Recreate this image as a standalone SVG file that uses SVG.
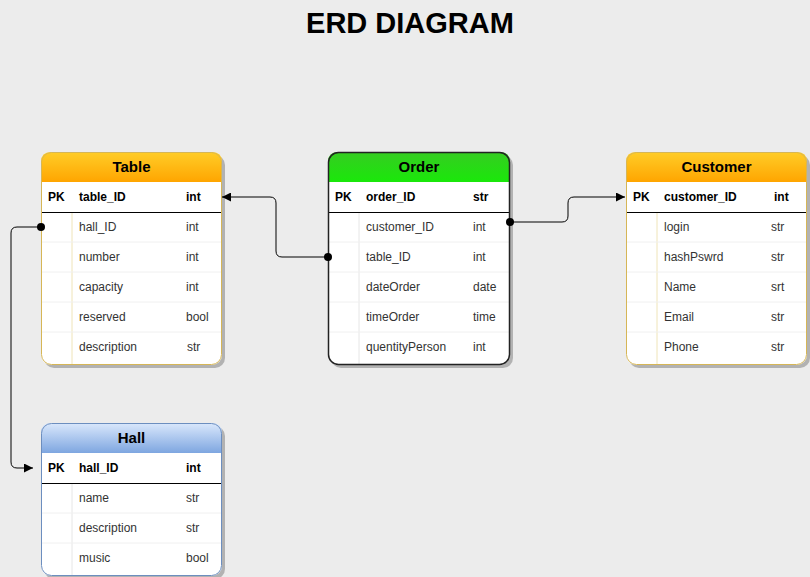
<svg xmlns="http://www.w3.org/2000/svg" width="810" height="577" viewBox="0 0 810 577">
<defs>
<linearGradient id="gOrange" x1="0" y1="0" x2="0" y2="1"><stop offset="0" stop-color="#ffcd28"/><stop offset="1" stop-color="#ffa500"/></linearGradient>
<linearGradient id="gGreen" x1="0" y1="0" x2="0" y2="1"><stop offset="0" stop-color="#36cc22"/><stop offset="1" stop-color="#1ae80a"/></linearGradient>
<linearGradient id="gBlue" x1="0" y1="0" x2="0" y2="1"><stop offset="0" stop-color="#dae8fc"/><stop offset="1" stop-color="#7ea6e0"/></linearGradient>
<marker id="arr" viewBox="0 0 10 10" refX="10" refY="5" markerWidth="9" markerHeight="9" markerUnits="userSpaceOnUse" orient="auto">
<path d="M0,0 L10,5 L0,10 Z" fill="#000"/>
</marker>
</defs>
<style>
text{font-family:"Liberation Sans",Arial,sans-serif;fill:#333;}
.title{font-size:29px;font-weight:bold;fill:#000;}
.hdr{font-size:15px;font-weight:bold;fill:#000;}
.pk{font-size:12px;font-weight:bold;fill:#000;}
.f{font-size:12px;fill:#333;}
.shadow{fill:#9a9a9a;opacity:0.7;}
.body{fill:#fff;}
.rowline{stroke:#f0f0f0;stroke-width:1;}
.pkline{stroke:#000;stroke-width:1;}
.conn{fill:none;stroke:#000;stroke-width:1;}
</style>
<rect x="0" y="0" width="810" height="577" fill="#ececec"/>
<text class="title" x="410" y="33" text-anchor="middle">ERD DIAGRAM</text>

<g id="table">
<rect class="shadow" x="44" y="155" width="181" height="213" rx="10"/>
<rect class="body" x="41" y="152" width="181" height="213" rx="10"/>
<path d="M41,182 V162 Q41,152 51,152 H212 Q222,152 222,162 V182 Z" fill="url(#gOrange)"/>
<line x1="72" y1="182" x2="72" y2="365" stroke="#efe4b8"/>
<line class="rowline" x1="42" y1="242" x2="221" y2="242"/>
<line class="rowline" x1="42" y1="272" x2="221" y2="272"/>
<line class="rowline" x1="42" y1="302" x2="221" y2="302"/>
<line class="rowline" x1="42" y1="332" x2="221" y2="332"/>
<rect x="41" y="182" width="181" height="30" fill="#fff"/>
<line class="pkline" x1="41" y1="212.5" x2="222" y2="212.5"/>
<rect x="41.5" y="152.5" width="180" height="212" rx="10" fill="none" stroke="#d6b656"/>
<text class="hdr" x="131.5" y="172" text-anchor="middle">Table</text>
<text class="pk" x="48" y="201">PK</text>
<text class="pk" x="79" y="201">table_ID</text>
<text class="pk" x="186" y="201">int</text>
<text class="f" x="79" y="231">hall_ID</text><text class="f" x="186" y="231">int</text>
<text class="f" x="79" y="261">number</text><text class="f" x="186" y="261">int</text>
<text class="f" x="79" y="291">capacity</text><text class="f" x="186" y="291">int</text>
<text class="f" x="79" y="321">reserved</text><text class="f" x="186" y="321">bool</text>
<text class="f" x="79" y="351">description</text><text class="f" x="187" y="351">str</text>
</g>

<g id="order">
<rect class="shadow" x="331" y="155" width="182" height="213" rx="10"/>
<rect class="body" x="328" y="152" width="182" height="213" rx="10"/>
<path d="M328,182 V162 Q328,152 338,152 H500 Q510,152 510,162 V182 Z" fill="url(#gGreen)"/>
<line x1="359" y1="182" x2="359" y2="365" stroke="#e6e6e6"/>
<line class="rowline" x1="329" y1="242" x2="509" y2="242"/>
<line class="rowline" x1="329" y1="272" x2="509" y2="272"/>
<line class="rowline" x1="329" y1="302" x2="509" y2="302"/>
<line class="rowline" x1="329" y1="332" x2="509" y2="332"/>
<rect x="328" y="182" width="182" height="30" fill="#fff"/>
<line class="pkline" x1="328" y1="212.5" x2="510" y2="212.5"/>
<rect x="328.5" y="152.5" width="181" height="212" rx="10" fill="none" stroke="#222" stroke-width="1.5"/>
<text class="hdr" x="419" y="172" text-anchor="middle">Order</text>
<text class="pk" x="335" y="201">PK</text>
<text class="pk" x="366" y="201">order_ID</text>
<text class="pk" x="473" y="201">str</text>
<text class="f" x="366" y="231">customer_ID</text><text class="f" x="473" y="231">int</text>
<text class="f" x="366" y="261">table_ID</text><text class="f" x="473" y="261">int</text>
<text class="f" x="366" y="291">dateOrder</text><text class="f" x="473" y="291">date</text>
<text class="f" x="366" y="321">timeOrder</text><text class="f" x="473" y="321">time</text>
<text class="f" x="366" y="351">quentityPerson</text><text class="f" x="473" y="351">int</text>
</g>

<g id="customer">
<rect class="shadow" x="629" y="155" width="181" height="213" rx="10"/>
<rect class="body" x="626" y="152" width="181" height="213" rx="10"/>
<path d="M626,182 V162 Q626,152 636,152 H797 Q807,152 807,162 V182 Z" fill="url(#gOrange)"/>
<line x1="657" y1="182" x2="657" y2="365" stroke="#efe4b8"/>
<line class="rowline" x1="627" y1="242" x2="806" y2="242"/>
<line class="rowline" x1="627" y1="272" x2="806" y2="272"/>
<line class="rowline" x1="627" y1="302" x2="806" y2="302"/>
<line class="rowline" x1="627" y1="332" x2="806" y2="332"/>
<rect x="626" y="182" width="181" height="30" fill="#fff"/>
<line class="pkline" x1="626" y1="212.5" x2="807" y2="212.5"/>
<rect x="626.5" y="152.5" width="180" height="212" rx="10" fill="none" stroke="#d6b656"/>
<text class="hdr" x="716.5" y="172" text-anchor="middle">Customer</text>
<text class="pk" x="633" y="201">PK</text>
<text class="pk" x="664" y="201">customer_ID</text>
<text class="pk" x="774" y="201">int</text>
<text class="f" x="664" y="231">login</text><text class="f" x="771" y="231">str</text>
<text class="f" x="664" y="261">hashPswrd</text><text class="f" x="771" y="261">str</text>
<text class="f" x="664" y="291">Name</text><text class="f" x="771" y="291">srt</text>
<text class="f" x="664" y="321">Email</text><text class="f" x="771" y="321">str</text>
<text class="f" x="664" y="351">Phone</text><text class="f" x="771" y="351">str</text>
</g>

<g id="hall">
<rect class="shadow" x="44" y="426" width="181" height="153" rx="10"/>
<rect class="body" x="41" y="423" width="181" height="153" rx="10"/>
<path d="M41,453 V433 Q41,423 51,423 H212 Q222,423 222,433 V453 Z" fill="url(#gBlue)"/>
<line x1="72" y1="453" x2="72" y2="576" stroke="#e6e6e6"/>
<line class="rowline" x1="42" y1="513" x2="221" y2="513"/>
<line class="rowline" x1="42" y1="543" x2="221" y2="543"/>
<rect x="41" y="453" width="181" height="30" fill="#fff"/>
<line class="pkline" x1="41" y1="483.5" x2="222" y2="483.5" stroke="#666"/>
<rect x="41.5" y="423.5" width="180" height="152" rx="10" fill="none" stroke="#6c8ebf"/>
<text class="hdr" x="131.5" y="443" text-anchor="middle">Hall</text>
<text class="pk" x="48" y="472">PK</text>
<text class="pk" x="79" y="472">hall_ID</text>
<text class="pk" x="186" y="472">int</text>
<text class="f" x="79" y="502">name</text><text class="f" x="186" y="502">str</text>
<text class="f" x="79" y="532">description</text><text class="f" x="186" y="532">str</text>
<text class="f" x="79" y="562">music</text><text class="f" x="186" y="562">bool</text>
</g>

<g id="connectors">
<path class="conn" d="M41,227 H17 Q11,227 11,233 V462 Q11,468 17,468 H33" marker-end="url(#arr)"/>
<circle cx="41" cy="227" r="4" fill="#000"/>
<path class="conn" d="M328,257 H282 Q276,257 276,251 V203 Q276,197 270,197 H222" marker-end="url(#arr)"/>
<circle cx="328" cy="257" r="4" fill="#000"/>
<path class="conn" d="M510,222 H562 Q568,222 568,216 V203 Q568,197 574,197 H625" marker-end="url(#arr)"/>
<circle cx="510" cy="222" r="4" fill="#000"/>
</g>
</svg>
